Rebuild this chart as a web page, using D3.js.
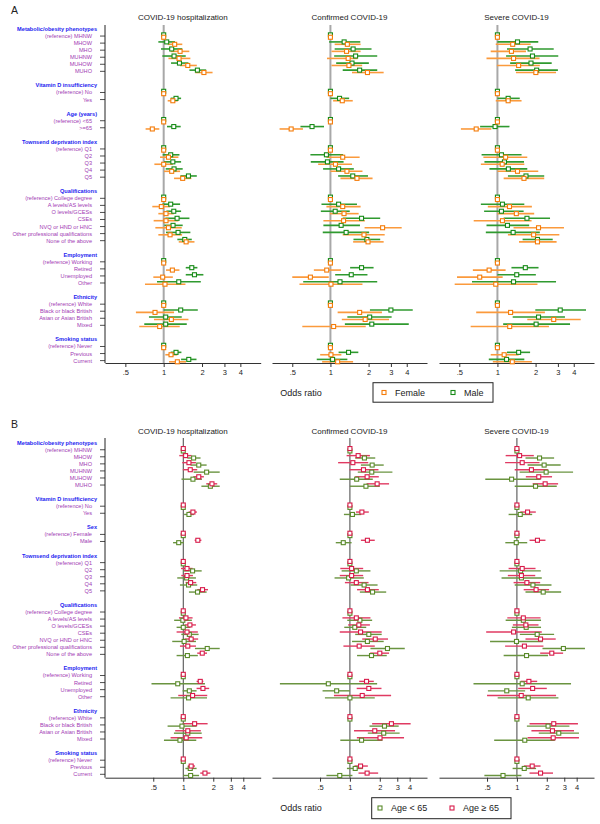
<!DOCTYPE html>
<html>
<head>
<meta charset="utf-8">
<script src="https://cdn.jsdelivr.net/npm/d3@7"></script>
<style>
  body { margin: 0; background: #fff; }
  svg { display: block; font-family: "Liberation Sans", Arial, sans-serif; }
</style>
</head>
<body>
<div id="chart"></div>
<script>
// --- row labels ---
const sectionsA = [
  ["Metabolic/obesity phenotypes", ["(reference) MHNW", "MHOW", "MHO", "MUHNW", "MUHOW", "MUHO"]],
  ["Vitamin D insufficiency", ["(reference) No", "Yes"]],
  ["Age (years)", ["(reference) <65", ">=65"]],
  ["Townsend deprivation index", ["(reference) Q1", "Q2", "Q3", "Q4", "Q5"]],
  ["Qualifications", ["(reference) College degree", "A levels/AS levels", "O levels/GCESs", "CSEs", "NVQ or HND or HNC", "Other professional qualifications", "None of the above"]],
  ["Employment", ["(reference) Working", "Retired", "Unemployed", "Other"]],
  ["Ethnicity", ["(reference) White", "Black or black British", "Asian or Asian British", "Mixed"]],
  ["Smoking status", ["(reference) Never", "Previous", "Current"]]
];
const sectionsB = sectionsA.map(s => s[0] === "Age (years)" ? ["Sex", ["(reference) Female", "Male"]] : s);

const panelTitles = ["COVID-19 hospitalization", "Confirmed COVID-19", "Severe COVID-19"];
const tickValues = [0.5, 1, 2, 3, 4];
const tickLabels = [".5", "1", "2", "3", "4"];

// --- panel A: [odds ratio, lower, upper] per row ---
const hospFemale = [
  [1,1,1],[1.22,1.075,1.40],[1.345,1.135,1.59],[1.32,1.09,1.62],[1.546,1.345,1.82],[2.07,1.77,2.42],
  [1,1,1],[1.18,1.075,1.29],
  [1,1,1],[0.814,0.721,0.924],
  [1,1,1],[1.09,0.936,1.305],[1.0,0.845,1.18],[1.156,1.006,1.345],[1.41,1.206,1.65],
  [1,1,1],[0.958,0.814,1.122],[1.043,0.908,1.2],[1.043,0.834,1.305],[1.09,0.86,1.386],[1.122,0.908,1.395],[1.5,1.313,1.745],
  [1,1,1],[1.17,1.043,1.33],[0.982,0.829,1.18],[1.024,0.713,1.482],
  [1,1,1],[0.855,0.605,1.206],[1.149,0.839,1.565],[0.93,0.643,1.337],
  [1,1,1],[1.142,1.03,1.28],[1.28,1.102,1.5]
];
const hospMale = [
  [1,1,1],[1.056,0.908,1.228],[1.156,0.953,1.40],[1.206,0.976,1.49],[1.33,1.142,1.565],[1.84,1.593,2.156],
  [1,1,1],[1.25,1.135,1.37],
  [1,1,1],[1.2,1.062,1.36],
  [1,1,1],[1.135,0.982,1.33],[1.18,1.006,1.37],[1.206,1.037,1.41],[1.565,1.353,1.82],
  [1,1,1],[1.135,0.976,1.345],[1.2,1.05,1.37],[1.274,1.03,1.593],[1.184,1.012,1.41],[1.297,1.043,1.62],[1.464,1.28,1.662],
  [1,1,1],[1.662,1.49,1.84],[1.745,1.49,2.05],[1.313,0.886,1.957],
  [1,1,1],[1.36,1.0,1.853],[1.037,0.766,1.386],[1.037,0.704,1.518],
  [1,1,1],[1.25,1.135,1.378],[1.574,1.37,1.81]
];
const confFemale = [
  [1,1,1],[1.36,1.08,1.73],[1.34,1.02,1.73],[1.38,0.94,1.64],[1.4,1.02,1.78],[1.96,1.48,2.63],
  [1,1,1],[1.24,1.05,1.5],
  [1,1,1],[0.49,0.397,0.607],
  [1,1,1],[1.25,0.93,1.7],[1.095,0.8,1.48],[1.35,1.0,1.79],[1.62,1.2,2.15],
  [1,1,1],[1.25,0.93,1.73],[1.28,0.99,1.67],[1.27,0.88,1.87],[2.58,1.86,3.65],[1.84,1.25,2.68],[1.98,1.51,2.63],
  [1,1,1],[0.935,0.74,1.21],[0.695,0.5,0.97],[1.01,0.57,1.79],
  [1,1,1],[1.7,1.14,2.55],[1.88,1.23,2.9],[1.06,0.6,1.9],
  [1,1,1],[1.01,0.83,1.22],[1.14,0.86,1.51]
];
const confMale = [
  [1,1,1],[1.283,0.976,1.72],[1.51,1.08,2.11],[1.58,1.07,2.34],[1.48,1.11,2.01],[1.7,1.25,2.34],
  [1,1,1],[1.18,1.0,1.405],
  [1,1,1],[0.716,0.58,0.89],
  [1,1,1],[0.93,0.695,1.26],[0.947,0.7,1.27],[1.16,0.875,1.53],[1.5,1.15,1.98],
  [1,1,1],[1.16,0.85,1.62],[1.09,0.84,1.42],[1.76,1.25,2.47],[1.215,0.88,1.71],[1.33,0.87,2.02],[1.94,1.52,2.47],
  [1,1,1],[1.76,1.43,2.19],[1.46,1.09,1.96],[1.19,0.61,2.34],
  [1,1,1],[3.0,2.05,4.46],[2.04,1.36,3.04],[2.12,1.3,4.15],
  [1,1,1],[1.39,1.16,1.66],[1.04,0.78,1.36]
];
const sevFemale = [
  [1,1,1],[1.32,0.97,1.83],[1.29,0.885,1.68],[1.34,0.82,2.15],[1.47,0.99,2.16],[2.01,1.4,2.9],
  [1,1,1],[1.215,0.97,1.55],
  [1,1,1],[0.68,0.515,0.896],
  [1,1,1],[1.16,0.775,1.72],[1.09,0.74,1.63],[1.44,1.0,2.1],[1.62,1.12,2.34],
  [1,1,1],[1.245,0.84,1.87],[1.41,1.0,1.95],[1.095,0.65,1.86],[2.11,1.34,3.35],[1.93,1.21,3.08],[2.07,1.48,2.93],
  [1,1,1],[0.86,0.64,1.16],[0.725,0.48,1.1],[0.97,0.46,2.07],
  [1,1,1],[1.27,0.68,2.37],[2.78,1.72,4.54],[1.25,0.615,2.55],
  [1,1,1],[1.13,0.885,1.47],[1.31,0.92,1.87]
];
const sevMale = [
  [1,1,1],[1.44,1.0,2.1],[1.81,1.19,2.78],[1.89,1.17,3.02],[1.84,1.26,2.68],[2.04,1.38,3.0],
  [1,1,1],[1.215,1.0,1.5],
  [1,1,1],[0.958,0.73,1.245],
  [1,1,1],[1.076,0.75,1.55],[1.136,0.79,1.62],[1.22,0.865,1.72],[1.68,1.21,2.34],
  [1,1,1],[1.095,0.74,1.63],[1.076,0.785,1.61],[1.71,1.12,2.6],[1.2,0.82,1.78],[1.33,0.81,2.16],[2.07,1.58,2.73],
  [1,1,1],[1.66,1.29,2.11],[1.42,1.0,2.01],[1.34,0.63,2.9],
  [1,1,1],[3.13,1.99,5.0],[2.11,1.32,3.41],[2.02,1.11,3.74],
  [1,1,1],[1.47,1.19,1.81],[1.18,0.855,1.63]
];

// --- panel B ---
const hospOld = [
  [1,1,1],[1.055,0.912,1.212],[1.14,0.977,1.34],[1.175,0.99,1.38],[1.43,1.26,1.61],[1.94,1.7,2.19],
  [1,1,1],[1.25,1.13,1.37],
  [1,1,1],[1.4,1.3,1.52],
  [1,1,1],[1.09,0.95,1.24],[1.09,0.955,1.25],[1.185,1.055,1.35],[1.56,1.38,1.77],
  [1,1,1],[1.064,0.905,1.24],[1.166,1.03,1.34],[1.09,0.857,1.4],[1.2,1.03,1.41],[1.11,0.926,1.34],[1.55,1.38,1.73],
  [1,1,1],[1.48,1.36,1.59],[1.575,1.36,1.82],[1.24,0.89,1.74],
  [1,1,1],[1.3,0.985,1.755],[1.11,0.83,1.5],[1.07,0.746,1.55],
  [1,1,1],[1.2,1.11,1.31],[1.65,1.48,1.87]
];
const hospYoung = [
  [1,1,1],[1.27,1.1,1.49],[1.43,1.18,1.715],[1.715,1.27,2.32],[1.25,0.96,1.54],[1.87,1.52,2.32],
  [1,1,1],[1.14,1.02,1.28],
  [1,1,1],[0.9,0.79,1.015],
  [1,1,1],[1.24,1.0,1.53],[1.08,0.87,1.34],[1.13,0.926,1.38],[1.39,1.14,1.715],
  [1,1,1],[0.99,0.81,1.22],[1.0,0.857,1.18],[1.15,0.955,1.425],[1.02,0.775,1.34],[1.74,1.31,2.32],[1.1,0.857,1.4],
  [1,1,1],[0.88,0.48,1.65],[1.15,0.985,1.36],[1.13,0.746,1.73],
  [1,1,1],[0.97,0.696,1.36],[1.11,0.806,1.53],[0.926,0.64,1.35],
  [1,1,1],[1.175,1.05,1.36],[1.185,1.0,1.44]
];
const confOld = [
  [1,1,1],[1.21,0.926,1.59],[1.07,0.76,1.53],[1.37,0.99,1.94],[1.49,1.13,1.955],[1.88,1.47,2.48],
  [1,1,1],[1.32,1.15,1.55],
  [1,1,1],[1.5,1.29,1.78],
  [1,1,1],[1.04,0.8,1.36],[1.04,0.79,1.36],[1.16,0.89,1.54],[1.5,1.18,1.955],
  [1,1,1],[1.16,0.84,1.61],[1.23,0.96,1.59],[1.28,0.79,2.09],[1.8,1.33,2.42],[1.24,0.86,1.78],[2.0,1.6,2.48],
  [1,1,1],[1.47,1.24,1.74],[1.55,1.17,2.08],[1.33,0.69,2.6],
  [1,1,1],[2.62,1.675,4.09],[1.78,1.1,2.85],[2.01,1.175,3.51],
  [1,1,1],[1.28,1.11,1.516],[1.49,1.22,1.925]
];
const confYoung = [
  [1,1,1],[1.4,1.13,1.8],[1.675,1.29,2.19],[1.66,1.2,2.68],[1.17,0.79,1.7],[1.45,1.0,2.0],
  [1,1,1],[1.06,0.87,1.3],
  [1,1,1],[0.857,0.72,1.04],
  [1,1,1],[1.16,0.825,1.61],[0.97,0.7,1.38],[1.39,1.015,1.9],[1.69,1.26,2.32],
  [1,1,1],[1.26,0.94,1.675],[1.12,0.877,1.46],[1.55,1.13,2.09],[1.5,1.05,2.19],[2.39,1.61,3.57],[1.65,1.18,2.35],
  [1,1,1],[0.606,0.197,1.88],[0.735,0.53,1.0],[1.0,0.56,1.78],
  [1,1,1],[2.23,1.575,3.1],[2.19,1.515,3.17],[1.31,0.8,2.13],
  [1,1,1],[1.13,0.933,1.35],[0.79,0.58,1.06]
];
const sevOld = [
  [1,1,1],[1.064,0.77,1.48],[1.13,0.76,1.69],[1.4,0.95,2.05],[1.66,1.23,2.26],[1.925,1.44,2.6],
  [1,1,1],[1.28,1.08,1.55],
  [1,1,1],[1.61,1.34,1.94],
  [1,1,1],[1.13,0.825,1.54],[1.11,0.81,1.53],[1.26,0.926,1.715],[1.56,1.17,2.11],
  [1,1,1],[1.16,0.8,1.73],[1.23,0.91,1.65],[0.926,0.49,1.78],[1.73,1.22,2.46],[1.19,0.76,1.85],[2.245,1.715,2.92],
  [1,1,1],[1.32,1.09,1.6],[1.44,1.03,2.0],[1.105,0.5,2.48],
  [1,1,1],[2.35,1.34,4.12],[2.28,1.4,3.76],[2.32,1.28,4.22],
  [1,1,1],[1.425,1.175,1.73],[1.73,1.34,2.31]
];
const sevYoung = [
  [1,1,1],[1.69,1.22,2.37],[1.88,1.28,2.76],[1.97,1.064,3.68],[0.884,0.48,1.73],[1.54,0.95,2.52],
  [1,1,1],[1.08,0.825,1.425],
  [1,1,1],[0.985,0.764,1.27],
  [1,1,1],[1.09,0.67,1.74],[1.11,0.7,1.78],[1.45,0.95,2.23],[1.84,1.22,2.79],
  [1,1,1],[1.16,0.77,1.75],[1.24,0.89,1.75],[1.6,1.07,2.37],[0.99,0.536,1.82],[2.94,1.81,4.85],[1.25,0.735,2.06],
  [1,1,1],[1.13,0.365,3.51],[0.79,0.51,1.21],[1.3,0.64,2.62],
  [1,1,1],[2.06,1.26,3.38],[2.64,1.66,4.22],[1.2,0.59,2.41],
  [1,1,1],[1.185,0.905,1.56],[0.724,0.47,1.11]
];

const W = 600, H = 824;
const svg = d3.select("#chart").append("svg").attr("width", W).attr("height", H);

const panelRanges = [[105, 260.7], [272, 427], [439, 594]];
const AXIS_X = 105;

// turn sections into slots: header, items..., blank
function buildSlots(sections) {
  const slots = [];
  sections.forEach((s, si) => {
    slots.push({ type: "header", label: s[0] });
    s[1].forEach(l => slots.push({ type: "row", label: l }));
    if (si < sections.length - 1) slots.push({ type: "blank" });
  });
  return slots;
}

function drawBlock(cfg) {
  const g = svg.append("g");
  const slots = buildSlots(cfg.sections);
  const rowSlots = slots.map((s, i) => ({ ...s, i })).filter(s => s.type === "row");
  const y = d3.scaleLinear().domain([0, slots.length - 1]).range([cfg.y0, cfg.y1]);

  g.append("text")
    .attr("x", 11).attr("y", cfg.letterY)
    .attr("font-size", 10.5).attr("fill", "#222")
    .text(cfg.letter);

  // labels
  g.selectAll("text.hdr").data(slots.map((s, i) => ({ ...s, i })).filter(s => s.type === "header"))
    .join("text").attr("class", "hdr")
    .attr("x", 97).attr("y", d => y(d.i)).attr("dy", "0.35em")
    .attr("text-anchor", "end").attr("font-size", 5.6).attr("font-weight", "bold")
    .attr("fill", "#2424f0").text(d => d.label);

  g.selectAll("text.row").data(rowSlots)
    .join("text").attr("class", "row")
    .attr("x", 92).attr("y", d => y(d.i)).attr("dy", "0.35em")
    .attr("text-anchor", "end").attr("font-size", 5.6)
    .attr("fill", "#a23ab4").text(d => d.label);

  // left axis
  g.append("line").attr("x1", AXIS_X).attr("x2", AXIS_X)
    .attr("y1", cfg.axisTop).attr("y2", cfg.axisBottom)
    .attr("stroke", "#222").attr("stroke-width", 1);
  g.selectAll("line.tk").data(rowSlots).join("line").attr("class", "tk")
    .attr("x1", AXIS_X - 5).attr("x2", AXIS_X)
    .attr("y1", d => y(d.i)).attr("y2", d => y(d.i))
    .attr("stroke", "#222").attr("stroke-width", 0.8);

  cfg.panels.forEach((p, pi) => {
    const x = d3.scaleLog().domain(cfg.domain).range(panelRanges[pi]);
    const pg = g.append("g");

    pg.append("text")
      .attr("x", (panelRanges[pi][0] + panelRanges[pi][1]) / 2).attr("y", cfg.titleY)
      .attr("text-anchor", "middle").attr("font-size", 8).attr("fill", "#222")
      .text(panelTitles[pi]);

    pg.append("line")
      .attr("x1", x(1)).attr("x2", x(1))
      .attr("y1", cfg.refTop).attr("y2", cfg.axisBottom)
      .attr("stroke", cfg.refColor).attr("stroke-width", cfg.refWidth);

    const ax = pg.append("g").attr("transform", `translate(0,${cfg.axisBottom})`)
      .call(d3.axisBottom(x).tickValues(tickValues)
        .tickFormat((d, i) => tickLabels[i]).tickSize(4).tickSizeOuter(0));
    ax.select(".domain").attr("stroke", "#333");
    ax.selectAll(".tick line").attr("stroke", "#333");
    ax.selectAll(".tick text").attr("font-size", 7.5).attr("fill", "#222")
      .attr("font-family", "Liberation Sans, Arial, sans-serif").attr("y", 7);

    cfg.series.forEach(s => {
      const data = p[s.key].map((v, j) => ({ v, slot: rowSlots[j].i }));
      pg.selectAll(null).data(data.filter(d => d.v[1] !== d.v[2])).join("line")
        .attr("x1", d => x(d.v[1])).attr("x2", d => x(d.v[2]))
        .attr("y1", d => y(d.slot) + s.dy).attr("y2", d => y(d.slot) + s.dy)
        .attr("stroke", s.line).attr("stroke-width", cfg.ciWidth);
    });
    cfg.series.forEach(s => {
      const data = p[s.key].map((v, j) => ({ v, slot: rowSlots[j].i }));
      pg.selectAll(null).data(data).join("rect")
        .attr("x", d => x(d.v[0]) - 2).attr("y", d => y(d.slot) + s.dy - 2)
        .attr("width", 4).attr("height", 4)
        .attr("fill", "#fff").attr("stroke", s.mark).attr("stroke-width", 1.1);
    });
  });

  // x label + legend
  g.append("text").attr("x", 301).attr("y", cfg.legendY).attr("dy", "0.35em")
    .attr("text-anchor", "middle").attr("font-size", 9).attr("fill", "#222").text("Odds ratio");
  const lg = g.append("g");
  lg.append("rect").attr("x", cfg.legendBox[0]).attr("y", cfg.legendBox[1])
    .attr("width", cfg.legendBox[2]).attr("height", cfg.legendBox[3])
    .attr("fill", "#fff").attr("stroke", "#222").attr("stroke-width", 1);
  cfg.legend.forEach(l => {
    const s = cfg.series.find(d => d.key === l.key);
    lg.append("rect").attr("x", l.x - 2).attr("y", cfg.legendY - 2).attr("width", 4).attr("height", 4)
      .attr("fill", "#fff").attr("stroke", s.mark).attr("stroke-width", 1.1);
    lg.append("text").attr("x", l.x + 11).attr("y", cfg.legendY).attr("dy", "0.35em")
      .attr("font-size", 9).attr("fill", "#222").text(l.label);
  });
}

drawBlock({
  letter: "A", letterY: 14,
  sections: sectionsA,
  y0: 29, y1: 360.6,
  axisTop: 25, axisBottom: 363, refTop: 25, titleY: 20,
  domain: [0.346, 5.78],
  refColor: "#a8a8a8", refWidth: 2, ciWidth: 1.6,
  panels: [
    { f: hospFemale, m: hospMale },
    { f: confFemale, m: confMale },
    { f: sevFemale, m: sevMale }
  ],
  series: [
    { key: "m", line: "#2f9a2f", mark: "#178a17", dy: -1.2 },
    { key: "f", line: "#fb9a3c", mark: "#f47c0a", dy: 1.2 }
  ],
  legendY: 392.5, legendBox: [373, 382.7, 120, 19.5],
  legend: [{ key: "f", label: "Female", x: 384 }, { key: "m", label: "Male", x: 453 }]
});

drawBlock({
  letter: "B", letterY: 428,
  sections: sectionsB,
  y0: 442.7, y1: 774.3,
  axisTop: 438, axisBottom: 777.7, refTop: 438, titleY: 434,
  domain: [0.164, 5.98],
  refColor: "#444", refWidth: 1, ciWidth: 1.4,
  panels: [
    { o: hospOld, y: hospYoung },
    { o: confOld, y: confYoung },
    { o: sevOld, y: sevYoung }
  ],
  series: [
    { key: "y", line: "#6a9440", mark: "#5a8a2a", dy: 1.2 },
    { key: "o", line: "#e03a62", mark: "#d81b4a", dy: -1.2 }
  ],
  legendY: 808, legendBox: [371.7, 797.7, 139.3, 21],
  legend: [{ key: "y", label: "Age < 65", x: 380 }, { key: "o", label: "Age \u2265 65", x: 452 }]
});
</script>
</body>
</html>
